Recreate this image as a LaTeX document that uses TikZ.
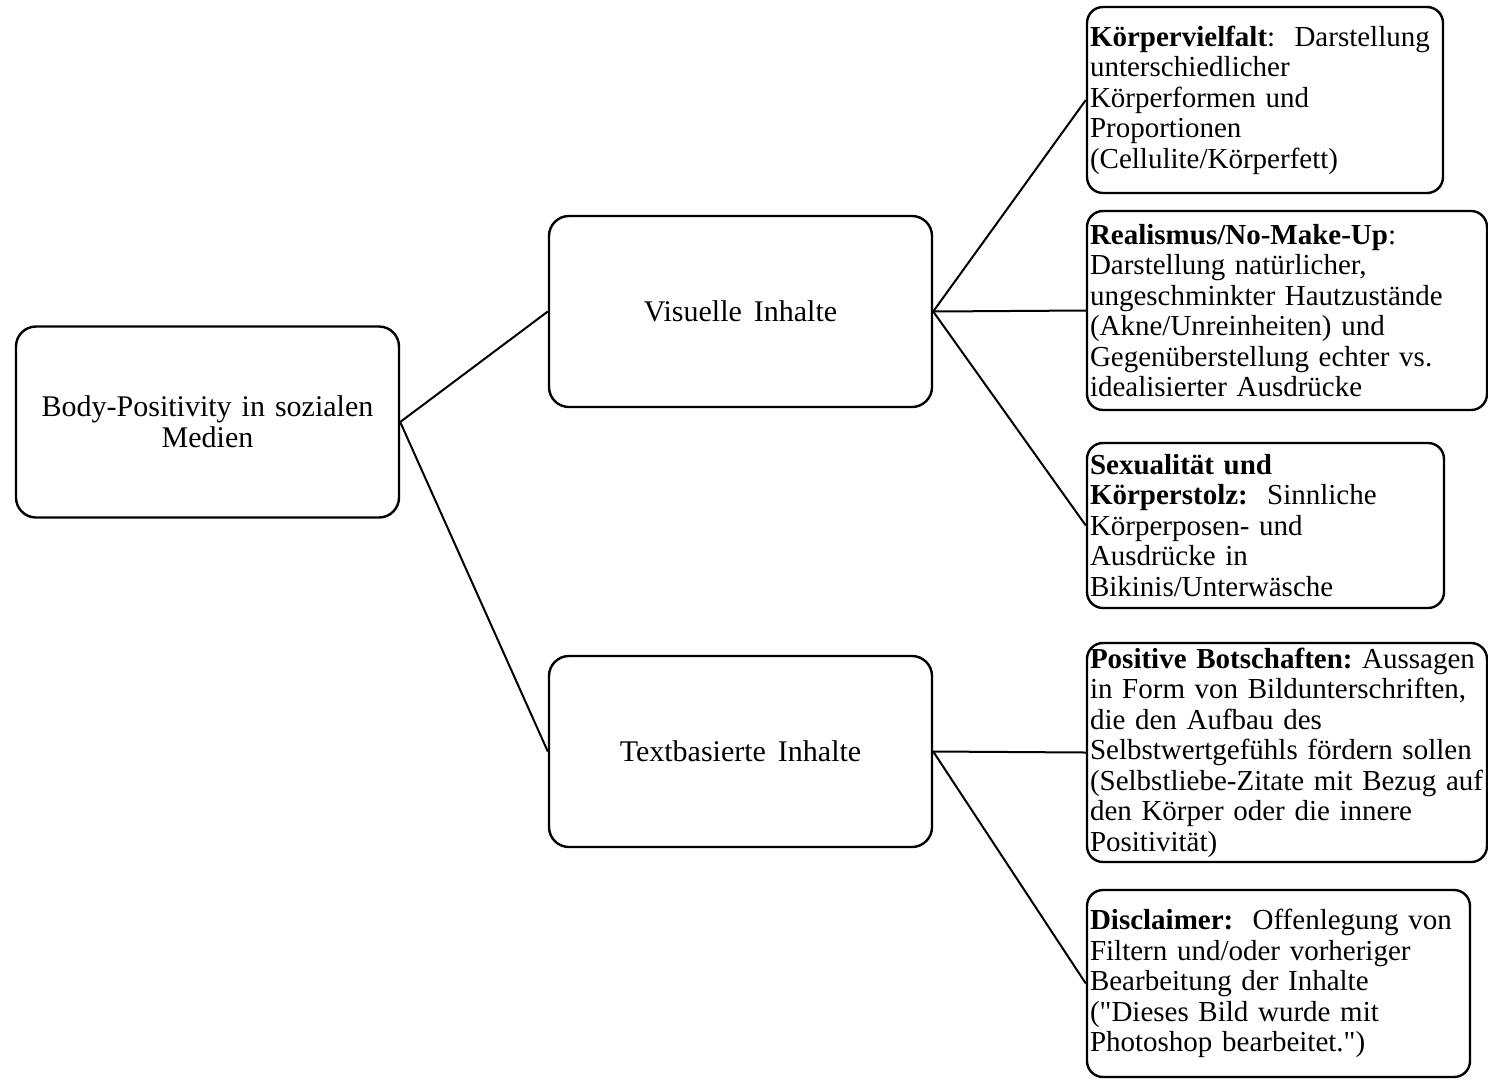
\documentclass[tikz,border=0pt]{standalone}
\usepackage{fontspec}
\setmainfont{Liberation Serif}[Ligatures=TeXOff]
\hyphenpenalty=10000
\exhyphenpenalty=10000
\begin{document}
\frenchspacing
\begin{tikzpicture}[x=1pt,y=-1pt,
  every node/.style={font=\fontsize{29}{30.5}\selectfont},
  box/.style={draw, line width=2.4pt, rounded corners=20pt, align=center,
    inner sep=0pt, minimum width=383pt, minimum height=191pt,
    font=\fontsize{30}{31}\selectfont},
  leaf/.style={draw, line width=2.4pt, rounded corners=16pt, align=left,
    inner xsep=3pt, inner ysep=0pt},
  link/.style={line width=2pt}]
\useasboundingbox (0,0) rectangle (1488,1080);

% main topic and the two content groups
\node[box] (root) at (207.5,422)
  {Body-Positivity\hspace{10pt}in\hspace{10pt}sozialen\\Medien};
\node[box] (vis) at (740.5,311.5)
  {Visuelle\hspace{12pt}Inhalte};
\node[box] (txt) at (740.5,751.5)
  {Textbasierte\hspace{12pt}Inhalte};

% visual content details
\node[leaf, text width=350pt, minimum height=186pt] (b1) at (1265,100)
  {\textbf{Körpervielfalt}:\ \ Darstellung\\unterschiedlicher\\Körperformen und\\Proportionen\\(Cellulite/Körperfett)};
\node[leaf, text width=394pt, minimum height=199pt] (b2) at (1287,310.5)
  {\textbf{Realismus/No-Make-Up}:\\Darstellung natürlicher,\\ungeschminkter Hautzustände\\(Akne/Unreinheiten) und\\Gegenüberstellung echter vs.\\idealisierter Ausdrücke};
\node[leaf, text width=351pt, minimum height=165pt] (b3) at (1265.5,525.5)
  {\textbf{Sexualität und}\\\textbf{Körperstolz:}\ \ Sinnliche\\Körperposen- und\\Ausdrücke in\\Bikinis/Unterwäsche};

% text-based content details
\node[leaf, text width=394pt, minimum height=219pt] (b4) at (1287,752.5)
  {\textbf{Positive Botschaften:} Aussagen\\in Form von Bildunterschriften,\\die den Aufbau des\\Selbstwertgefühls fördern sollen\\(Selbstliebe-Zitate mit Bezug auf\\den Körper oder die innere\\Positivität)};
\node[leaf, text width=377pt, minimum height=187pt] (b5) at (1278.5,983.5)
  {\textbf{Disclaimer:}\ \ Offenlegung von\\Filtern und/oder vorheriger\\Bearbeitung der Inhalte\\("Dieses Bild wurde mit\\Photoshop bearbeitet.")};

% connectors
\draw[link] (root.east) -- (vis.west);
\draw[link] (root.east) -- (txt.west);
\draw[link] (vis.east) -- (b1.west);
\draw[link] (vis.east) -- (b2.west);
\draw[link] (vis.east) -- (b3.west);
\draw[link] (txt.east) -- (b4.west);
\draw[link] (txt.east) -- (b5.west);
\end{tikzpicture}
\end{document}
